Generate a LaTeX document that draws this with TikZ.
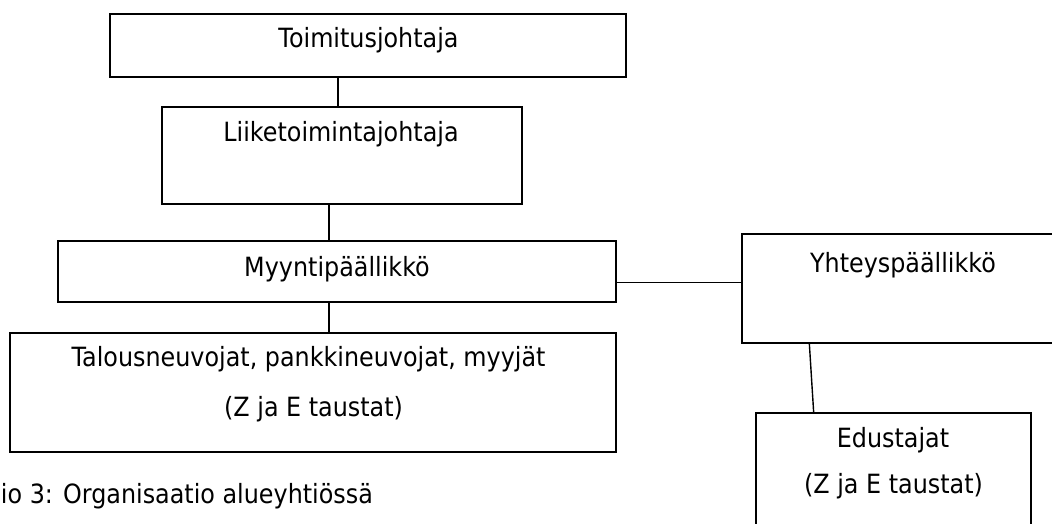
\documentclass[tikz,border=0pt]{standalone}
\usepackage{fontspec}
\setmainfont{DejaVu Sans}[FakeStretch=0.9]
\begin{document}
\begin{tikzpicture}[x=1pt,y=-1pt,
  box/.style={draw=black, line width=1.6pt, rectangle, inner sep=0pt, outer sep=0pt},
  txt/.style={inner sep=0pt, outer sep=0pt, anchor=base, text=black},
  conn/.style={draw=black, line width=1.4pt},
  font=\fontsize{26.5}{30}\selectfont]
\clip (0,0) rectangle (1052,524);
\fill[white] (0,0) rectangle (1052,524);
% boxes
\node[box, minimum width=516pt, minimum height=63pt] (toim) at (368,45.5) {};
\node[box, minimum width=360pt, minimum height=97pt] (liike) at (342,155.5) {};
\node[box, minimum width=558pt, minimum height=61pt] (myy) at (337,271.5) {};
\node[box, minimum width=606pt, minimum height=119pt] (tal) at (313,392.5) {};
\node[box, minimum width=328pt, minimum height=109pt] (yht) at (906,288.5) {};
\node[box, minimum width=275pt, minimum height=132pt] (edu) at (893.5,479) {};
% texts
\node[txt] (ttoim) at (368.5,47.5) {Toimitusjohtaja};
\node[txt] (tliike) at (341,142) {Liiketoimintajohtaja};
\node[txt] (tmyy) at (337,276) {Myyntipäällikkö};
\node[txt] (ttal1) at (308.5,366.7) {Talousneuvojat, pankkineuvojat, myyjät};
\node[txt] (ttal2) at (313.6,416.7) {(Z ja E taustat)};
\node[txt] (tyht) at (903,272) {Yhteyspäällikkö};
\node[txt] (tedu1) at (893,447.5) {Edustajat};
\node[txt] (tedu2) at (893.5,493) {(Z ja E taustat)};
\node[txt, anchor=base west] (cap) at (1,503.3) {io 3: Organisaatio alueyhtiössä};
% connectors
\draw[conn] (toim.south -| 338,0) -- (liike.north -| 338,0);
\draw[conn] (liike.south -| 329,0) -- (myy.north -| 329,0);
\draw[conn] (myy.south -| 329,0) -- (tal.north -| 329,0);
\draw[conn] (myy.east |- 0,282.3) -- (yht.west |- 0,282.3);
\draw[conn] (yht.south -| 809.3,0) -- (edu.north -| 813.7,0);
\end{tikzpicture}
\end{document}
